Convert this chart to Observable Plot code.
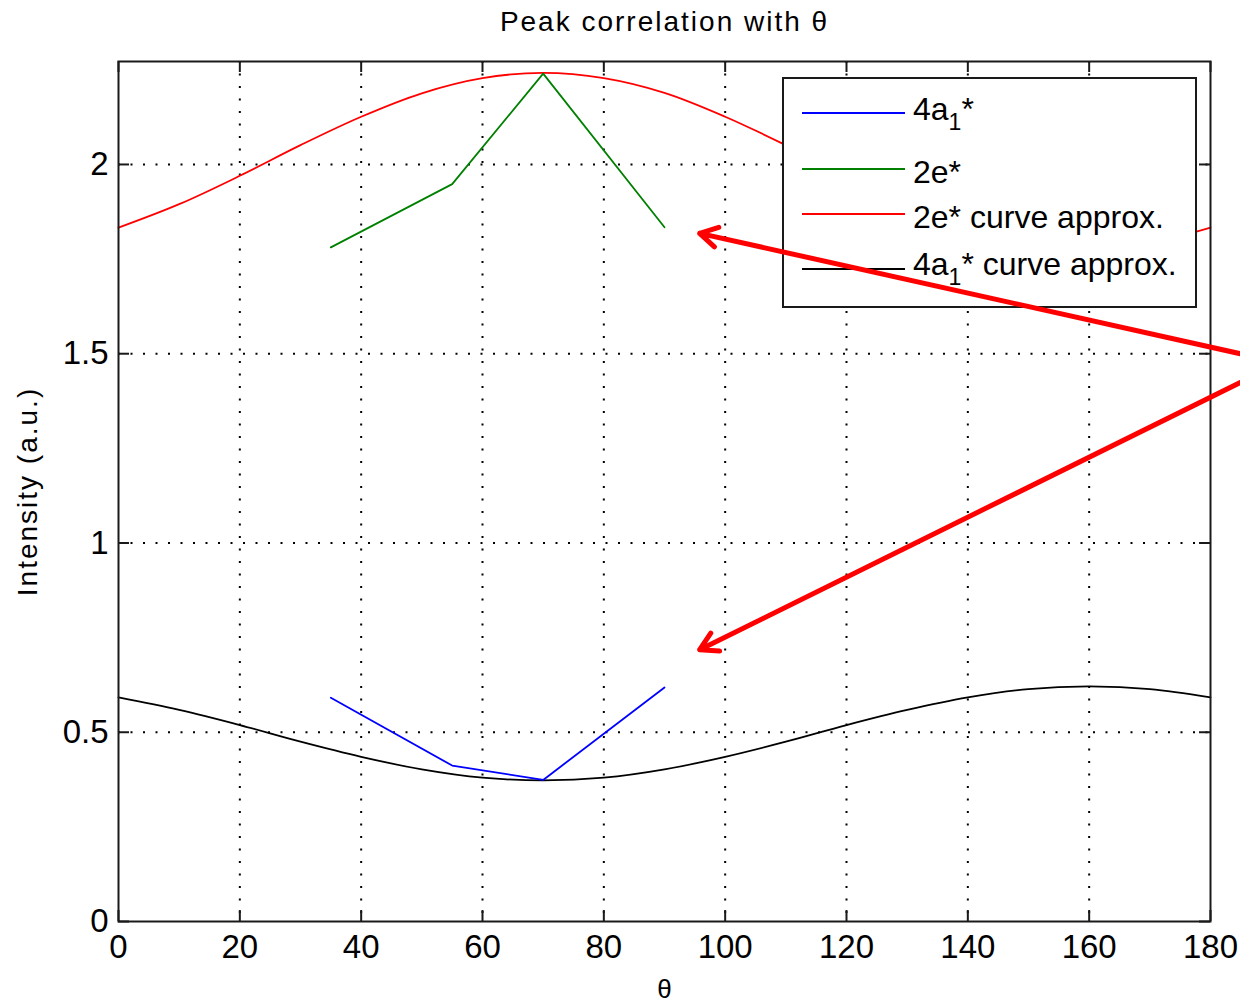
<!DOCTYPE html>
<html>
<head>
<meta charset="utf-8">
<script src="https://cdn.jsdelivr.net/npm/d3@7"></script>
<script src="https://cdn.jsdelivr.net/npm/@observablehq/plot@0.6"></script>
<style>
  body { margin: 0; background: #fff; }
  #chart svg { display: block; }
</style>
</head>
<body>
<div id="chart"></div>
<script>
// Angle samples (degrees) for the fitted curves
const thetaFit = [0, 10, 20, 30, 40, 50, 60, 70, 80, 90, 100, 110, 120, 130, 140, 150, 160, 170, 180];
// 2e* curve approximation
const fit2e = [1.833, 1.895, 1.970, 2.051, 2.126, 2.188, 2.228, 2.242, 2.228, 2.189, 2.126, 2.051, 1.970, 1.895, 1.833, 1.793, 1.779, 1.793, 1.833];
// 4a1* curve approximation
const fit4a = [0.592, 0.559, 0.519, 0.475, 0.435, 0.402, 0.380, 0.373, 0.380, 0.402, 0.435, 0.475, 0.519, 0.559, 0.592, 0.614, 0.621, 0.614, 0.592];

// Measured peaks
const thetaMeas = [35, 55, 70, 90];
const meas4a = [0.591, 0.412, 0.374, 0.618];
const meas2e = [1.781, 1.948, 2.240, 1.834];

// Axes
const xTicks = [0, 20, 40, 60, 80, 100, 120, 140, 160, 180];
const yTicks = [0, 0.5, 1, 1.5, 2];
const xDomain = [0, 180];
const yDomain = [0, 2.272];

// Series labels and colours (legend order)
const seriesLabels = [["4a", "1", "*"], ["2e*"], ["2e* curve approx."], ["4a", "1", "* curve approx."]];
const seriesColors = ["#0000ff", "#008000", "#ff0000", "#000000"];

// Annotation arrows (start beyond the right edge, pointing at the measured curves)
const arrowX1 = [184.9, 184.9];
const arrowY1 = [1.500, 1.424];
const arrowX2 = [95.8, 95.8];
const arrowY2 = [1.818, 0.718];

const titleText = "Peak correlation with θ";
const xLabel = "θ";
const yLabel = "Intensity (a.u.)";

const W = 1240, H = 1006;
const mL = 118, mR = 30, mT = 61, mB = 85;
const innerW = W - mL - mR, innerH = H - mT - mB;
const tickLen = 11;
const ink = "#1a1a1a";
const font = "'Liberation Sans', Arial, Helvetica, sans-serif";

const rows = (xs, ys) => xs.map((x, i) => ({x, y: ys[i]}));
const fitRed = rows(thetaFit, fit2e);
const fitBlack = rows(thetaFit, fit4a);
const measBlue = rows(thetaMeas, meas4a);
const measGreen = rows(thetaMeas, meas2e);
const arrows = arrowX1.map((_, i) => ({x1: arrowX1[i], y1: arrowY1[i], x2: arrowX2[i], y2: arrowY2[i]}));

// Legend box drawn inside the axes, top right
function legend() {
  const g = d3.create("svg:g").attr("font-family", font).attr("fill", "#000").attr("text-anchor", "start");
  const box = {x: 783, y: 78, w: 413, h: 229};
  g.append("rect").attr("x", box.x).attr("y", box.y).attr("width", box.w).attr("height", box.h)
    .attr("fill", "#fff").attr("stroke", ink).attr("stroke-width", 2);
  const lineY = [113, 169, 214, 269];
  const baseY = [120, 183, 228, 275];
  seriesLabels.forEach((parts, i) => {
    g.append("line").attr("x1", 802).attr("x2", 905).attr("y1", lineY[i]).attr("y2", lineY[i])
      .attr("stroke", seriesColors[i]).attr("stroke-width", 1.8);
    const t = g.append("text").attr("x", 913).attr("y", baseY[i]).attr("font-size", 32)
      .attr("text-anchor", "start");
    t.append("tspan").text(parts[0]);
    if (parts.length > 1) {
      t.append("tspan").attr("font-size", 23).attr("dy", 10).text(parts[1]);
      t.append("tspan").attr("dy", -10).text(parts[2]);
    }
  });
  return g.node();
}

const chart = Plot.plot({
  width: W,
  height: H,
  marginLeft: mL,
  marginRight: mR,
  marginTop: mT,
  marginBottom: mB,
  style: {fontFamily: font, fontSize: "33px", color: "#000", background: "#fff"},
  x: {domain: xDomain, label: null},
  y: {domain: yDomain, label: null},
  marks: [
    // dotted grid
    Plot.ruleX(xTicks.slice(1, -1), {x: d => d, stroke: "#000", strokeWidth: 2, strokeDasharray: "2,10.5"}),
    Plot.ruleY(yTicks.slice(1), {y: d => d, stroke: "#000", strokeWidth: 2, strokeDasharray: "2,10.5"}),
    // inward ticks on all four sides
    Plot.tickX(xTicks, {x: d => d, stroke: ink, strokeWidth: 2, insetTop: innerH - tickLen}),
    Plot.tickX(xTicks, {x: d => d, stroke: ink, strokeWidth: 2, insetBottom: innerH - tickLen}),
    Plot.tickY(yTicks, {y: d => d, stroke: ink, strokeWidth: 2, insetRight: innerW - tickLen}),
    Plot.tickY(yTicks, {y: d => d, stroke: ink, strokeWidth: 2, insetLeft: innerW - tickLen}),
    // tick labels
    Plot.axisX(xTicks, {tickSize: 0, tickPadding: 13, fontSize: 33, tickFormat: d => String(d), label: null}),
    Plot.axisY(yTicks, {tickSize: 0, tickPadding: 10, fontSize: 33, tickFormat: d => String(d), label: null}),
    // curves
    Plot.line(fitRed, {x: "x", y: "y", stroke: seriesColors[2], strokeWidth: 1.8, curve: "catmull-rom"}),
    Plot.line(fitBlack, {x: "x", y: "y", stroke: seriesColors[3], strokeWidth: 1.8, curve: "catmull-rom"}),
    Plot.line(measBlue, {x: "x", y: "y", stroke: seriesColors[0], strokeWidth: 1.8}),
    Plot.line(measGreen, {x: "x", y: "y", stroke: seriesColors[1], strokeWidth: 1.8}),
    Plot.frame({stroke: ink, strokeWidth: 2}),
    // title and axis labels
    Plot.text([titleText], {frameAnchor: "top", dy: -39, fontSize: 28, lineAnchor: "middle", fill: "#000"}),
    Plot.text([xLabel], {frameAnchor: "bottom", dy: 68, fontSize: 26, lineAnchor: "middle", fill: "#000"}),
    Plot.text([yLabel], {frameAnchor: "left", dx: -90, rotate: -90, fontSize: 28, textAnchor: "middle", lineAnchor: "middle", fill: "#000"}),
    legend,
    // annotation arrows
    Plot.arrow(arrows, {x1: "x1", y1: "y1", x2: "x2", y2: "y2", stroke: "#ff0000", strokeWidth: 5, headLength: 6, headAngle: 60})
  ]
});

d3.select(chart).selectAll("text")
  .filter(function () { return this.textContent === titleText || this.textContent === yLabel; })
  .attr("letter-spacing", 2);

document.getElementById("chart").appendChild(chart);
</script>
</body>
</html>
